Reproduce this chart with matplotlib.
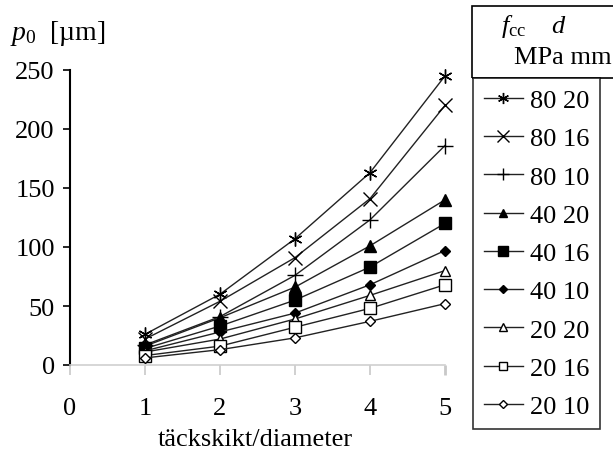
import numpy as np
import matplotlib.pyplot as plt
from matplotlib.patches import Rectangle

plt.rcParams['font.family'] = ['Liberation Serif', 'DejaVu Serif']
plt.rcParams['mathtext.fontset'] = 'custom'
plt.rcParams['mathtext.rm'] = 'Liberation Serif'
plt.rcParams['mathtext.it'] = 'Liberation Serif:italic'

x = [1, 2, 3, 4, 5]

# p0 [um] per series
s80_20 = [26, 60, 107, 163, 245]
s80_16 = [22, 54, 91, 141, 220]
s80_10 = [17, 41, 76, 123, 186]
s40_20 = [16, 40, 66, 101, 140]
s40_16 = [14, 33, 55, 83, 120]
s40_10 = [12, 28, 44, 68, 97]
s20_20 = [11, 22, 39, 59, 80]
s20_16 = [8, 16, 32, 48, 68]
s20_10 = [6, 13, 23, 37, 52]

labels = ['80 20', '80 16', '80 10', '40 20', '40 16', '40 10',
          '20 20', '20 16', '20 10']
series = [s80_20, s80_16, s80_10, s40_20, s40_16, s40_10, s20_20, s20_16, s20_10]

# marker, size, face colour
styles = [((6, 2, 0), 10, 'black'),
          ('x', 10, 'black'),
          ('+', 11, 'black'),
          ('^', 8, 'black'),
          ('s', 9, 'black'),
          ('D', 5, 'black'),
          ('^', 7, 'white'),
          ('s', 8, 'white'),
          ('D', 5, 'white')]

FS = 19

fig = plt.figure(figsize=(6.13, 4.52), dpi=100)
ax = fig.add_axes([70 / 613, 1 - 366 / 452, 375 / 613, 295 / 452])

handles = []
for vals, lab, (m, ms, fc) in zip(series, labels, styles):
    h, = ax.plot(x, vals, color='#222222', lw=1.0, marker=m, markersize=ms,
                 markerfacecolor=fc, markeredgecolor='black', markeredgewidth=1.0,
                 label=lab, clip_on=False, zorder=3)
    handles.append(h)

ax.set_xlim(0, 5)
ax.set_ylim(0, 250)
ax.set_xticks([0, 1, 2, 3, 4, 5])
ax.set_yticks([0, 50, 100, 150, 200, 250])

for sp in ['top', 'right']:
    ax.spines[sp].set_visible(False)
ax.spines['left'].set_linewidth(1.5)
ax.spines['left'].set_bounds(0, 250)
ax.spines['bottom'].set_color('#cfcfcf')
ax.spines['bottom'].set_linewidth(1.2)

ax.tick_params(axis='y', direction='out', length=5, width=1.2, pad=6,
               labelsize=FS, colors='black')
ax.tick_params(axis='x', direction='out', length=7, width=1.2, pad=16,
               labelsize=FS, color='#c8c8c8', labelcolor='black')
xt = ax.xaxis.get_major_ticks()
xt[0].tick1line.set_color('black')
xt[-1].tick1line.set_color('black')
xt[-1].tick1line.set_markeredgewidth(2)

fig.text(255 / 613, 1 - 440 / 452, 'täckskikt/diameter', fontsize=19,
         ha='center', va='center')
fig.text(10 / 613, 1 - 33 / 452, r'$p_0$  [µm]', fontsize=20, va='center', ha='left')

# legend header box
fig.patches.append(Rectangle((472 / 613, 1 - 79 / 452), 150 / 613, 72 / 452,
                             transform=fig.transFigure, fill=False,
                             edgecolor='black', lw=1.2))
fig.text(534 / 613, 1 - 27 / 452, r'$f_{\rm cc}$    $d$', fontsize=FS,
         ha='center', va='center')
fig.text(563 / 613, 1 - 58 / 452, 'MPa mm', fontsize=FS, ha='center', va='center')

leg = fig.legend(handles=handles, loc='upper left',
                 bbox_to_anchor=(473 / 613, 1 - 79 / 452), borderaxespad=0,
                 fontsize=FS, frameon=True, fancybox=False, edgecolor='black',
                 handlelength=1.5, handletextpad=0.25, labelspacing=0.56,
                 borderpad=0.4, markerscale=0.8)
leg.get_frame().set_linewidth(1.2)

fig.savefig('out.png', dpi=100)
